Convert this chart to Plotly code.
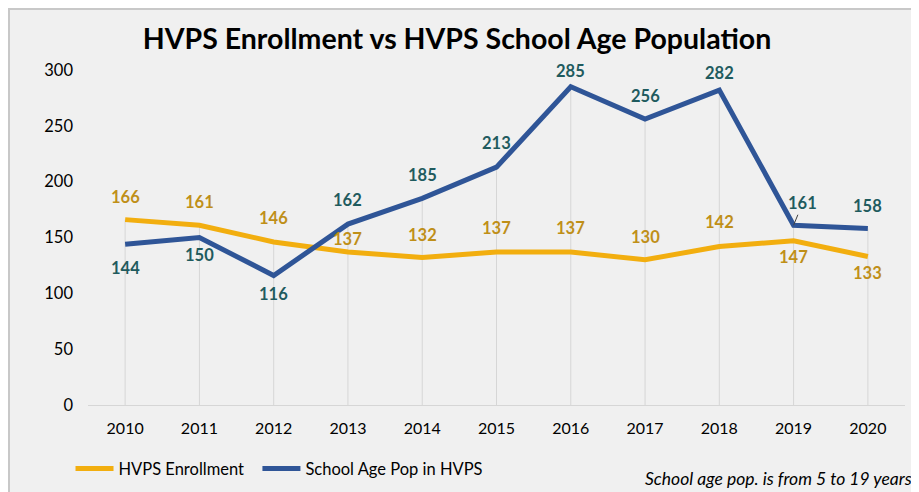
import plotly.graph_objects as go

years = ["2010", "2011", "2012", "2013", "2014", "2015", "2016", "2017", "2018", "2019", "2020"]
enrollment = [166, 161, 146, 137, 132, 137, 137, 130, 142, 147, 133]
school_age_pop = [144, 150, 116, 162, 185, 213, 285, 256, 282, 161, 158]

# vertical label offsets in px (negative = above point)
enroll_dy = [-23, -23, -24, -13, -23, -24, -24, -23, -24, 16, 17]
pop_dy = [24, 17, 19, -24, -23, -24, -16, -23, -17, -22, -23]

GOLD = "#F2AE0F"
BLUE = "#2F5597"
GOLD_TXT = "#BF8F18"
TEAL_TXT = "#1F5B5E"
FONT = "Lato"

# figure geometry (page body has an 8px margin)
W, H = 911, 484
L, R, T, B = 80, 14, 62, 87
PW, PH = W - L - R, H - T - B


def px_x(fx):
    return (fx - L) / PW


def px_y(fy):
    return (H - B - fy) / PH


fig = go.Figure()

# drop lines from highest point to axis
dx, dy = [], []
for yr, a, b in zip(years, enrollment, school_age_pop):
    dx += [yr, yr, None]
    dy += [0, max(a, b), None]
fig.add_trace(go.Scatter(x=dx, y=dy, mode="lines", line=dict(color="#D6D6D6", width=1),
                         showlegend=False, hoverinfo="skip"))

fig.add_trace(go.Scatter(x=years, y=enrollment, mode="lines",
                         name="HVPS Enrollment\u00a0\u00a0",
                         line=dict(color=GOLD, width=5)))
fig.add_trace(go.Scatter(x=years, y=school_age_pop, mode="lines", name="School Age Pop in HVPS",
                         line=dict(color=BLUE, width=5)))

# category axis: annotations use category index
for i, v in enumerate(enrollment):
    fig.add_annotation(x=i, y=v, xref="x", yref="y", text="<b>%d</b>" % v, showarrow=False,
                       yshift=-enroll_dy[i], font=dict(family=FONT, size=16.5, color=GOLD_TXT))
for i, (yr, v) in enumerate(zip(years, school_age_pop)):
    if yr == "2019":
        fig.add_annotation(x=i, y=v, xref="x", yref="y", text="<b>%d</b>" % v, showarrow=True,
                           arrowhead=0, arrowwidth=1, arrowcolor="#404040", ax=9, ay=pop_dy[i],
                           font=dict(family=FONT, size=16.5, color=TEAL_TXT))
    else:
        fig.add_annotation(x=i, y=v, xref="x", yref="y", text="<b>%d</b>" % v, showarrow=False,
                           yshift=-pop_dy[i], font=dict(family=FONT, size=16.5, color=TEAL_TXT))

fig.add_annotation(xref="paper", yref="paper", x=px_x(906), y=px_y(470), xanchor="right",
                   yanchor="middle", text="<i>School age pop. is from 5 to 19 years</i>",
                   showarrow=False, font=dict(family=FONT, size=17.5, color="#000000"))

fig.update_layout(
    width=W, height=H,
    margin=dict(l=L, r=R, t=T, b=B, autoexpand=False),
    paper_bgcolor="white",
    plot_bgcolor="rgba(0,0,0,0)",
    title=dict(text="<b>HVPS Enrollment vs HVPS School Age Population</b>", x=449 / W, xanchor="center",
               y=1 - 31 / H, yanchor="middle", font=dict(family=FONT, size=28.5, color="#000000")),
    font=dict(family=FONT, size=16, color="#000000"),
    xaxis=dict(type="category", range=[-0.5, 10.5], showgrid=False, zeroline=False,
               showline=True, linecolor="#D6D6D6", linewidth=1, ticks="", ticklabelstandoff=9,
               tickfont=dict(family=FONT, size=16, color="#000000")),
    yaxis=dict(range=[0, 300], tickvals=[0, 50, 100, 150, 200, 250, 300], showgrid=False,
               zeroline=False, showline=False, ticks="", ticklabelstandoff=14,
               tickfont=dict(family=FONT, size=16.5, color="#000000")),
    legend=dict(orientation="h", x=-0.0214, xanchor="left", y=-0.19, yanchor="middle",
                font=dict(family=FONT, size=16.5, color="#000000"), bgcolor="rgba(0,0,0,0)",
                itemwidth=38, tracegroupgap=0),
    shapes=[dict(type="rect", xref="paper", yref="paper", x0=px_x(1), x1=px_x(W + 5),
                 y0=px_y(H + 5), y1=px_y(1), fillcolor="#F0F0F0",
                 line=dict(color="#C8C8C8", width=2), layer="below")],
)

fig.write_html("out.html")
